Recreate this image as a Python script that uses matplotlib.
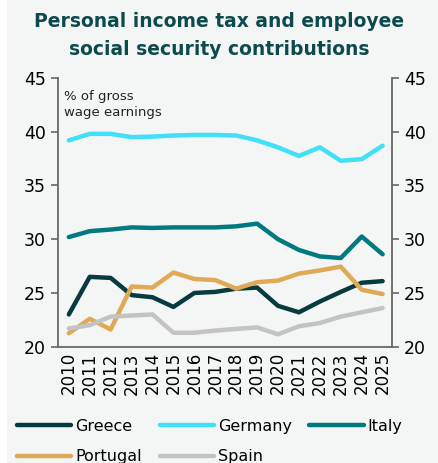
import matplotlib.pyplot as plt
from matplotlib.patches import Rectangle

years = list(range(2010, 2026))

greece = [23.0, 26.5, 26.4, 24.8, 24.6, 23.7, 25.0, 25.1, 25.4, 25.5, 23.8, 23.2, 24.2, 25.1, 25.95, 26.1]
germany = [39.2, 39.8, 39.8, 39.5, 39.55, 39.65, 39.7, 39.7, 39.65, 39.2, 38.55, 37.75, 38.55, 37.3, 37.45, 38.7]
italy = [30.2, 30.75, 30.9, 31.1, 31.05, 31.1, 31.1, 31.1, 31.2, 31.45, 30.0, 29.0, 28.4, 28.25, 30.25, 28.6]
portugal = [21.25, 22.6, 21.6, 25.6, 25.5, 26.9, 26.3, 26.2, 25.4, 26.0, 26.15, 26.8, 27.1, 27.45, 25.3, 24.9]
spain = [21.7, 22.0, 22.8, 22.9, 23.0, 21.3, 21.3, 21.5, 21.65, 21.8, 21.15, 21.9, 22.2, 22.8, 23.2, 23.6]

series = [
    ("Greece", greece, "#073b3f"),
    ("Germany", germany, "#41dff8"),
    ("Italy", italy, "#007a80"),
    ("Portugal", portugal, "#e0a955"),
    ("Spain", spain, "#c3c3c1"),
]

bg = "#f4f6f6"
fig = plt.figure(figsize=(4.39, 4.63), dpi=100, facecolor=bg)
fig.patches.append(Rectangle((0, 0), 7 / 439, 1, transform=fig.transFigure,
                             facecolor="white", edgecolor="none", zorder=-1))
ax = fig.add_axes([0.132, 0.2512, 0.761, 0.5803])
ax.set_facecolor(bg)

handles = {}
for name, vals, col in series:
    h, = ax.plot(years, vals, color=col, lw=3.2, solid_capstyle="round", label=name)
    handles[name] = h

ax.set_xlim(2009.48, 2025.45)
ax.set_ylim(20, 45)
ax.set_yticks([20, 25, 30, 35, 40, 45])
ax.set_xticks(years)
ax.set_xticklabels([str(y) for y in years], rotation=90, fontsize=12)
ax.tick_params(axis="x", length=0, pad=4)
ax.tick_params(axis="y", labelsize=12.5, length=5, color="#666666", width=1.2,
               right=True, labelright=True)

for side in ["left", "right", "bottom"]:
    ax.spines[side].set_color("#666666")
    ax.spines[side].set_linewidth(1.3)
ax.spines["top"].set_visible(False)

ax.text(2009.75, 43.9, "% of gross\nwage earnings", fontsize=9.5, va="top",
        ha="left", color="#222222", linespacing=1.35)

fig.text(0.5, 0.975, "Personal income tax and employee\nsocial security contributions",
         ha="center", va="top", fontsize=13.5, fontweight="bold", color="#0d4a4d",
         linespacing=1.65)

order = ["Greece", "Portugal", "Germany", "Spain", "Italy"]
fig.legend([handles[n] for n in order], order, loc="upper left",
           bbox_to_anchor=(0.039, 0.095), ncol=3, frameon=False, fontsize=11.5,
           handlelength=3.4, handletextpad=0.25, columnspacing=1.1,
           labelspacing=0.95, borderpad=0, borderaxespad=0)

fig.savefig("out.png", dpi=100, facecolor=bg)
